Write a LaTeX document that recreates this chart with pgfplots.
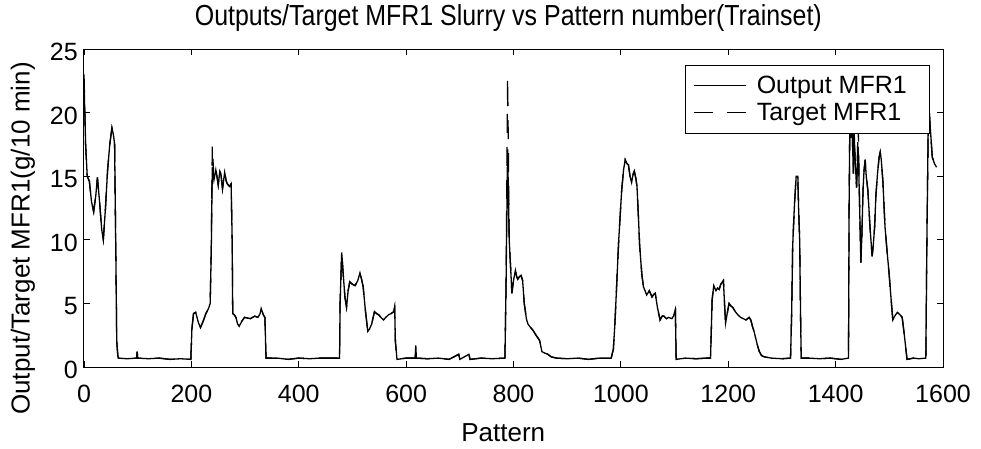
\documentclass[border=0pt]{standalone}
\usepackage{pgfplots}
\pgfplotsset{compat=1.18}
\usepackage{pgfplotstable}
\usepackage{fontspec}
\setmainfont{Liberation Sans}
\newfontfamily\titlefont{Liberation Sans}[FakeStretch=0.86]

\pgfplotstableread{
x out tgt
0 22.5 23.0
3 17.5 17.5
6 15.0 15.0
10 14.6 14.6
14 13.0 13.0
18 12.2 12.2
22 13.5 13.5
25 14.9 14.9
29 13.0 13.0
33 10.8 10.8
36 10.0 10.0
40 12.5 12.5
44 15.5 15.5
48 17.5 17.5
52 18.8 18.8
55 18.2 18.2
57 17.5 17.5
59 10.0 10.0
61 2.0 2.0
63 0.9 0.9
64 0.7 0.7
80 0.65 0.65
98 0.7 0.7
99 1.2 1.2
100 0.7 0.7
120 0.65 0.65
140 0.7 0.7
160 0.6 0.6
180 0.65 0.65
199 0.6 0.6
201 3.0 3.0
204 4.2 4.2
208 4.3 4.3
213 3.5 3.5
217 3.1 3.1
222 3.6 3.6
227 4.2 4.2
232 4.6 4.6
235 5.0 5.0
237 9.0 9.0
239 15.7 17.4
242 14.7 14.7
245.5 15.5 15.5
248 14.9 14.9
250 14.3 14.3
253 15.4 15.4
255 15.2 15.2
258 14.0 14.0
262 15.3 15.3
265 14.6 14.6
267 14.4 14.4
271 14.2 14.2
274 14.4 14.4
276 10.0 10.0
277 4.2 4.2
280 4.1 4.1
283 3.9 3.9
286 3.4 3.4
289 3.2 3.2
294 3.6 3.6
299 3.9 3.9
310 3.8 3.8
318 4.0 4.0
324 3.9 3.9
328 4.2 4.2
330 4.6 4.6
334 4.1 4.1
337 3.9 3.9
339 0.7 0.7
360 0.7 0.7
380 0.6 0.6
400 0.7 0.7
420 0.65 0.65
440 0.7 0.7
460 0.7 0.7
476 0.7 0.7
477 5.0 5.0
480 9.0 9.0
483 7.2 7.2
486 5.5 5.5
489 4.7 4.7
492 6.0 6.0
495 6.7 6.7
500 6.5 6.5
505 6.4 6.4
510 6.8 6.8
514 7.4 7.4
517 6.9 6.9
520 6.3 6.3
524 4.5 4.5
528.6 2.8 2.8
532 3.0 3.0
536 3.4 3.4
541 4.35 4.35
545 4.2 4.2
549 4.1 4.1
553 3.9 3.9
558 3.7 3.7
562 3.9 3.9
567 4.1 4.1
572 4.2 4.2
577 4.35 4.35
578.6 4.7 4.7
580 2.0 2.0
583 0.6 0.6
600 0.7 0.7
617 0.7 0.7
618 1.7 1.7
619 0.7 0.7
640 0.65 0.65
660 0.7 0.7
680 0.6 0.6
698 1.0 1.0
700 0.6 0.6
717 1.0 1.0
719 0.6 0.6
740 0.7 0.7
760 0.65 0.65
784 0.7 0.7
786 6.0 6.0
789 17.1 22.8
792 10.0 10.0
795 7.5 7.5
797 5.8 5.8
800 6.8 6.8
803.5 7.6 7.6
806 7.1 7.1
808 6.9 6.9
811 7.1 7.1
814 7.2 7.2
817 6.8 6.8
820 5.0 5.0
824 3.8 3.8
826.6 3.4 3.4
830 3.2 3.2
836 2.9 2.9
842 2.5 2.5
848.5 2.1 2.1
851 1.6 1.6
853 1.2 1.2
858 1.1 1.1
864 1.0 1.0
870 0.8 0.8
880 0.7 0.7
900 0.65 0.65
920 0.7 0.7
940 0.6 0.6
960 0.7 0.7
982 0.7 0.7
986 1.4 1.4
989 3.5 3.5
992 6.3 6.3
996 10.0 10.0
1001.5 13.9 13.9
1005 15.5 15.5
1008 16.3 16.3
1011 16.0 16.0
1014 15.9 15.9
1017 15.0 15.0
1020 14.5 14.5
1023 15.2 15.2
1025 15.4 15.4
1028 14.8 14.8
1030 14.2 14.2
1033 11.5 11.5
1035 9.5 9.5
1039 7.3 7.3
1042 6.3 6.3
1045 6.0 6.0
1048 5.66 5.66
1053 6.0 6.0
1058 5.5 5.5
1061 5.7 5.7
1064 5.8 5.8
1068 4.7 4.7
1073 3.7 3.7
1077 4.0 4.0
1080 4.0 4.0
1085 3.8 3.8
1089 3.9 3.9
1095 3.8 3.8
1098 4.0 4.0
1101.5 4.5 4.5
1103 0.6 0.6
1120 0.7 0.7
1140 0.65 0.65
1160 0.7 0.7
1167 0.7 0.7
1170 5.3 5.3
1173 6.4 6.4
1177 6.0 6.0
1180 6.2 6.2
1183 6.1 6.1
1186 6.5 6.5
1191 6.8 6.8
1193 5.0 5.0
1195 3.45 3.45
1198 4.2 4.2
1201.5 5.0 5.0
1205 4.8 4.8
1208 4.7 4.7
1214 4.3 4.3
1218 4.1 4.1
1223 3.9 3.9
1228 3.8 3.8
1233 3.7 3.7
1239 3.9 3.9
1242 3.7 3.7
1245 3.2 3.2
1248 2.8 2.8
1251.5 2.2 2.2
1255 1.6 1.6
1258 1.2 1.2
1262 0.9 0.9
1267 0.8 0.8
1280 0.7 0.7
1300 0.65 0.65
1316 0.7 0.7
1318 4.0 4.0
1320 9.5 9.5
1323 12.5 12.5
1326.5 15.0 15.0
1329.6 15.0 15.0
1331 12.5 12.5
1333 10.0 10.0
1335 3.0 3.0
1336 0.7 0.7
1350 0.7 0.7
1370 0.65 0.65
1390 0.7 0.7
1410 0.6 0.6
1424 0.7 0.7
1425 12.0 12.0
1426.5 19.5 19.5
1428 18.0 18.0
1430 20.0 20.0
1433 15.2 15.2
1434.5 18.5 18.5
1436 16.6 16.6
1439 14.1 14.1
1442 17.3 19.0
1444.5 13.0 13.0
1447 8.2 8.2
1449 10.5 10.5
1451 13.9 13.9
1453 15.5 15.5
1455 16.3 16.3
1457 15.0 15.0
1460 13.9 13.9
1462 12.5 12.5
1464 11.0 11.0
1468 8.7 8.7
1470 9.5 9.5
1472.6 11.0 11.0
1475 13.5 13.5
1478 15.2 15.2
1481 16.5 16.5
1483 16.9 16.9
1485 16.3 16.3
1488 14.6 14.6
1492 11.0 11.0
1496 9.0 9.0
1499.5 7.4 7.4
1503 5.5 5.5
1506.5 3.7 3.7
1510 4.0 4.0
1515 4.3 4.3
1520 4.1 4.1
1524 3.9 3.9
1528 2.5 2.5
1533 0.6 0.6
1545 0.7 0.7
1555 0.65 0.65
1568 0.7 0.7
1570 10.0 10.0
1573 21.0 21.0
1576 19.0 19.0
1580 16.5 16.5
1584 16.0 16.0
1588 15.7 15.7
}\datatable

\begin{document}
\begin{tikzpicture}
\useasboundingbox (-84pt,-81pt) rectangle (897pt,367pt);
\begin{axis}[
  scale only axis,
  width=859pt, height=318pt,
  xmin=0, xmax=1600, ymin=0, ymax=25,
  xtick={0,200,...,1600}, ytick={0,5,...,25},
  tick align=inside,
  major tick length=6pt,
  every tick/.style={black, line width=0.8pt},
  axis line style={black, line width=1pt},
  /pgf/number format/assume math mode=true,
  /pgf/number format/set thousands separator={},
  ticklabel style={font=\fontsize{25}{25}\selectfont},
  xticklabel style={inner sep=0pt, anchor=north, yshift=-18pt},
  yticklabel style={inner sep=0pt, anchor=east, xshift=-6pt, yshift=-3pt},
  title={Outputs/Target MFR1 Slurry vs Pattern number(Trainset)},
  title style={at={(axis description cs:0.494,1.0566)}, anchor=base, inner sep=0pt, font=\titlefont\fontsize{29}{29}\selectfont},
  xlabel={Pattern},
  xlabel style={at={(axis description cs:0.488,-0.235)}, anchor=base, inner sep=0pt, font=\fontsize{26}{26}\selectfont},
  ylabel={Output/Target MFR1(g/10 min)},
  ylabel style={at={(axis description cs:-0.071,0.404)}, anchor=center, inner sep=0pt, font=\fontsize{26}{26}\selectfont},
  legend image code/.code={\draw[#1] (0pt,0pt) -- (52pt,0pt);},
  legend style={at={(axis description cs:0.9837,0.9497)}, anchor=north east,
    font=\fontsize{25}{25}\selectfont, draw=black, fill=white,
    inner xsep=8pt, inner ysep=7pt, row sep=0pt,
    nodes={inner xsep=4pt, inner ysep=4pt},
    /tikz/every odd column/.append style={column sep=10pt},
    /tikz/every even column/.append style={nodes={inner xsep=0pt, outer xsep=0pt}}},
  legend cell align=left,
]
\addplot[black, line width=1.3pt] table[x=x, y=out] {\datatable};
\addlegendentry{Output MFR1\kern14pt}
\addplot[black, line width=1.3pt, dash pattern=on 19pt off 14pt] table[x=x, y=tgt] {\datatable};
\addlegendentry{Target MFR1\kern14pt}
\end{axis}
\end{tikzpicture}
\end{document}
